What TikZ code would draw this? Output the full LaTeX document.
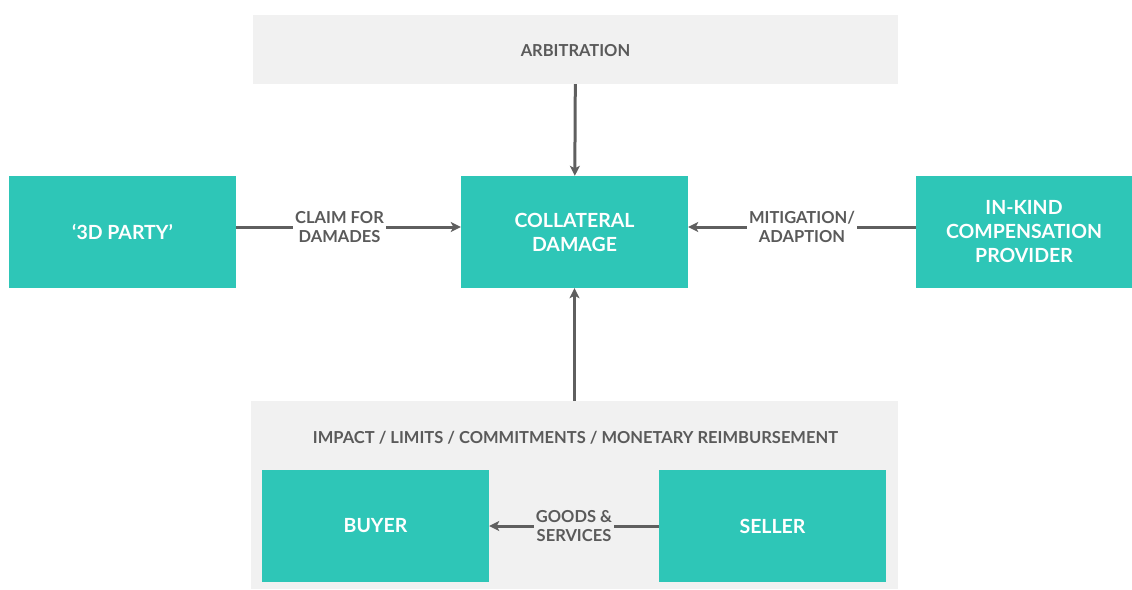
\documentclass[tikz,border=0pt]{standalone}
\usepackage{fontspec}
\setmainfont{Lato}
\usetikzlibrary{positioning,arrows.meta}
\definecolor{boxteal}{HTML}{2EC6B7}
\definecolor{bggray}{HTML}{F1F1F1}
\definecolor{txtgray}{HTML}{5A5A5A}
\definecolor{arrgray}{HTML}{5F5F5F}

\begin{document}
\begin{tikzpicture}[x=1pt,y=-1pt,
    box/.style={rectangle,fill=boxteal,text=white,inner sep=0pt,align=center,
      minimum width=227pt,minimum height=112pt,
      font=\fontsize{19.5}{24}\selectfont\bfseries},
    graybox/.style={rectangle,fill=bggray,inner sep=0pt},
    lbl/.style={fill=white,text=txtgray,align=center,inner xsep=2pt,inner ysep=1pt,
      font=\fontsize{16.5}{19}\selectfont\bfseries},
    arr/.style={draw=arrgray,line width=3pt,-{Stealth[length=10pt,width=10pt,inset=2.5pt]}}]
    \useasboundingbox (0,0) rectangle (1132,589);
    % grey frames
    \node (arb) [graybox,minimum width=645pt,minimum height=69pt] at (575.5,49.5) {};
    \node (arbtext) [lbl,fill=none] at (575.5,50.5) {ARBITRATION};
    \node (impact) [graybox,minimum width=647pt,minimum height=188pt] at (574.5,495) {};
    \node (impacttext) [lbl,fill=none] at (575.5,437.5) {IMPACT / LIMITS / COMMITMENTS / MONETARY REIMBURSEMENT};
    % teal boxes
    \node (third) [box] at (122.5,232) {‘3D PARTY’};
    \node (coll) [box] at (574.5,232) {COLLATERAL\\DAMAGE};
    \node (inkind) [box,minimum width=216pt] at (1024,232) {IN-KIND\\COMPENSATION\\PROVIDER};
    \node (buyer) [box] at (375.5,526) {BUYER};
    \node (seller) [box] at (772.5,526) {SELLER};
    % arrows
    \path (arb) edge[arr] (coll);
    \path (impact) edge[arr] (coll);
    \path ([yshift=5pt]third.east) edge[arr] node[lbl,pos=0.46] {CLAIM FOR\\DAMADES} ([yshift=5pt]coll.west);
    \path ([yshift=5pt]inkind.west) edge[arr] node[lbl] {MITIGATION/\\ADAPTION} ([yshift=5pt]coll.east);
    \path (seller) edge[arr] node[lbl,fill=bggray] {GOODS \&\\SERVICES} (buyer);
  \end{tikzpicture}
\end{document}
